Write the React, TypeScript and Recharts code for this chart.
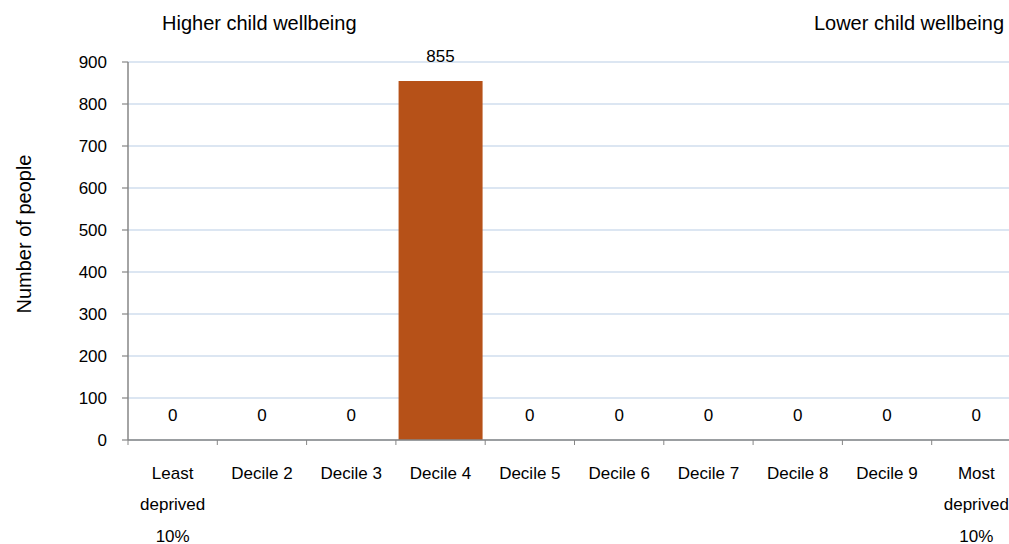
import React from 'react';
import { ComposedChart, Bar, Line, XAxis, YAxis, CartesianGrid, LabelList } from 'recharts';

const categories = [
  'Least\ndeprived\n10%',
  'Decile 2',
  'Decile 3',
  'Decile 4',
  'Decile 5',
  'Decile 6',
  'Decile 7',
  'Decile 8',
  'Decile 9',
  'Most\ndeprived\n10%',
];
const people = [0, 0, 0, 855, 0, 0, 0, 0, 0, 0];
const yTicks = [0, 100, 200, 300, 400, 500, 600, 700, 800, 900];
const leftTitle = 'Higher child wellbeing';
const rightTitle = 'Lower child wellbeing';
const yLabel = 'Number of people';

const data = categories.map((c, i) => ({ name: c, value: people[i] }));

const FONT = '"Liberation Sans", Arial, Helvetica, sans-serif';
const CHART_W = 1030;
const CHART_H = 544;
const MARGIN = { top: 62, right: 9, left: 68, bottom: 14 };
const Y_AXIS_W = 60;
const X_AXIS_H = 90;
const PLOT_W = CHART_W - MARGIN.left - MARGIN.right - Y_AXIS_W;
const BAND = PLOT_W / categories.length;
const AXIS_COLOR = '#868686';
const TEXT_COLOR = '#000000';
const TICK_FONT = 17;

function XTick(props: any) {
  const { x, y, payload, index } = props;
  const lines = String(payload.value).split('\n');
  const last = index === categories.length - 1;
  return (
    <g>
      <line x1={x - BAND / 2} x2={x - BAND / 2} y1={y} y2={y + 5} stroke={AXIS_COLOR} />
      {last && <line x1={x + BAND / 2} x2={x + BAND / 2} y1={y} y2={y + 5} stroke={AXIS_COLOR} />}
      <text x={x} y={y + 33} textAnchor="middle" fontSize={TICK_FONT} fontFamily={FONT} fill={TEXT_COLOR}>
        {lines.map((l, i) => (
          <tspan key={i} x={x} dy={i === 0 ? '0.35em' : 31.5}>
            {l}
          </tspan>
        ))}
      </text>
    </g>
  );
}

export default function App() {
  return (
    <div
      style={{
        position: 'absolute',
        left: 0,
        top: 0,
        width: 1009,
        height: 544,
        overflow: 'hidden',
        background: '#ffffff',
        fontFamily: FONT,
      }}
    >
      <ComposedChart
        width={CHART_W}
        height={CHART_H}
        data={data}
        margin={MARGIN}
        barCategoryGap="3%"
      >
        <CartesianGrid vertical={false} stroke="#b9cde5" strokeWidth={1.2} />
        <XAxis
          dataKey="name"
          height={X_AXIS_H}
          interval={0}
          tickLine={false}
          tickSize={0}
          tickMargin={0}
          axisLine={{ stroke: AXIS_COLOR, strokeWidth: 1.5 }}
          tick={<XTick />}
        />
        <YAxis
          width={Y_AXIS_W}
          domain={[0, 900]}
          ticks={yTicks}
          interval={0}
          tickSize={6}
          tickMargin={15}
          axisLine={{ stroke: AXIS_COLOR, strokeWidth: 1.5 }}
          tickLine={{ stroke: AXIS_COLOR, strokeWidth: 1.2 }}
          tick={{ fill: TEXT_COLOR, fontSize: TICK_FONT, fontFamily: FONT }}
        />
        <Bar dataKey="value" fill="#b65118" isAnimationActive={false} />
        <Line
          dataKey="value"
          stroke="none"
          dot={false}
          activeDot={false}
          legendType="none"
          isAnimationActive={false}
        >
          <LabelList
            dataKey="value"
            position="top"
            offset={19}
            fill={TEXT_COLOR}
            fontSize={TICK_FONT}
            fontFamily={FONT}
          />
        </Line>
      </ComposedChart>
      <div
        style={{
          position: 'absolute',
          left: 162,
          top: 13,
          fontSize: 20,
          lineHeight: 1,
          color: TEXT_COLOR,
          whiteSpace: 'nowrap',
        }}
      >
        {leftTitle}
      </div>
      <div
        style={{
          position: 'absolute',
          right: 5,
          top: 13,
          fontSize: 20,
          lineHeight: 1,
          color: TEXT_COLOR,
          whiteSpace: 'nowrap',
        }}
      >
        {rightTitle}
      </div>
      <div
        style={{
          position: 'absolute',
          left: 24,
          top: 234,
          fontSize: 20,
          lineHeight: 1,
          color: TEXT_COLOR,
          whiteSpace: 'nowrap',
          transform: 'translate(-50%, -50%) rotate(-90deg)',
        }}
      >
        {yLabel}
      </div>
    </div>
  );
}
